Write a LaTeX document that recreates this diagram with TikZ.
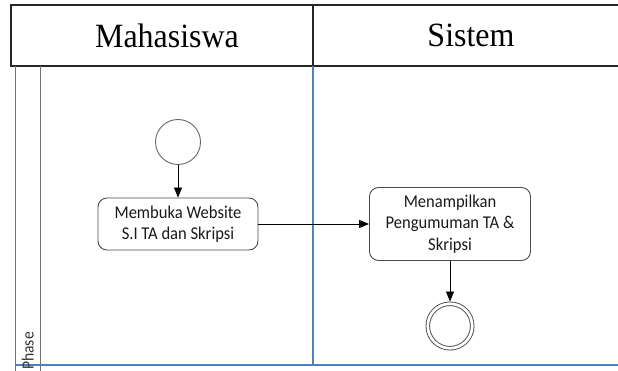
\documentclass[tikz,border=0pt]{standalone}
\usepackage{xcolor}
\usepackage{fontspec}
\setmainfont{Liberation Serif}
\newfontfamily\headfont[FakeStretch=0.94]{Liberation Serif}
\newfontfamily\bpmnfont[FakeStretch=0.92]{Carlito}
\usepackage{tikz}
\usetikzlibrary{positioning,arrows.meta}

\definecolor{laneblue}{RGB}{79,129,189}

\begin{document}
\begin{tikzpicture}[
    x=1pt, y=-1pt,
    lanehead/.style = {
        rectangle,
        draw=black!85,
        line width=1.3pt,
        minimum height=61pt,
        inner sep=0pt
    },
    headtext/.style = {inner sep=0pt, xshift=5pt, font=\headfont\fontsize{34}{40}\selectfont},
    task/.style = {
        rectangle,
        draw=black!70,
        line width=0.9pt,
        rounded corners=9pt,
        align=center,
        inner sep=0pt,
        text=black!90,
        font=\bpmnfont\fontsize{18}{21.3}\selectfont
    },
    startevent/.style = {circle, draw=black!60, line width=0.9pt, minimum size=45pt, inner sep=0pt},
    endevent/.style   = {circle, draw=black!70, line width=0.9pt, double, double distance=2.7pt,
                         minimum size=44.5pt, inner sep=0pt, outer sep=2.25pt},
    arrow/.style      = {->, line width=0.9pt, >={Triangle[length=10pt,width=8pt]}, draw=black},
    laneline/.style   = {line width=1pt, draw=black!55},
    bluelane/.style   = {line width=1.2pt, draw=laneblue},
    phaselabel/.style = {rotate=90, anchor=base, inner sep=0pt, text=black!80,
                         font=\bpmnfont\fontsize{17}{20}\selectfont}
]

\useasboundingbox (0,0) rectangle (618,371);

% Lane headers
\node[lanehead, minimum width=302pt, label={[headtext]center:Mahasiswa}] (mhs) at (162,35.5) {};
\node[lanehead, minimum width=306pt, label={[headtext]center:Sistem}] (sis) at (466,35.5) {};

% Lane frame
\draw[laneline] (15,66) -- (15,371);
\draw[laneline] (40,66) -- (40,371);
\draw[bluelane] (313,66) -- (313,365);
\draw[bluelane] (15,365) -- (620,365);
\node[phaselabel] (phase) at (33.5,351) {Phase};

% Mahasiswa lane
\node[startevent] (start) at (178,142) {};
\node[task, minimum width=160pt, minimum height=52pt] (website) at (178,224)
    {Membuka Website\\S.I TA dan Skripsi};

% Sistem lane
\node[task, minimum width=161pt, minimum height=73pt] (pengumuman) at (450,224)
    {Menampilkan\\Pengumuman TA \&\\Skripsi};
\node[endevent] (finish) at (450,326) {};

% Arrows
\draw[arrow] (start) -- (website);
\draw[arrow] (website) -- (pengumuman);
\draw[arrow] (pengumuman) -- (finish);

\end{tikzpicture}
\end{document}
